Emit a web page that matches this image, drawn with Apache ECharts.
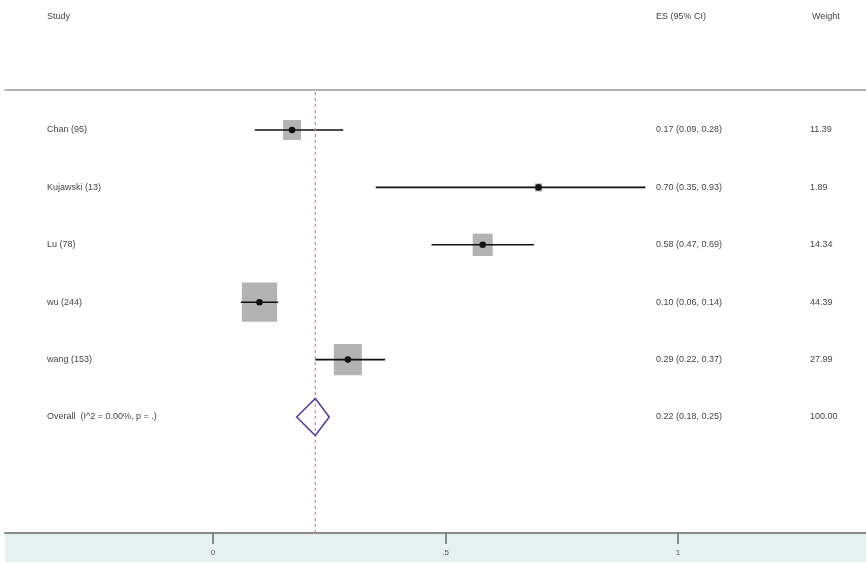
<!DOCTYPE html>
<html>
<head>
<meta charset="utf-8">
<script src="https://cdn.jsdelivr.net/npm/echarts@6/dist/echarts.min.js"></script>
<style>html,body{margin:0;padding:0;background:#fff}#c{width:866px;height:562px}</style>
</head>
<body>
<div id="c"></div>
<script>
// ---- data ----
const studies = ['Chan (95)', 'Kujawski (13)', 'Lu (78)', 'wu (244)', 'wang (153)'];
const es      = [0.17, 0.70, 0.58, 0.10, 0.29];
const ciLow   = [0.09, 0.35, 0.47, 0.06, 0.22];
const ciHigh  = [0.28, 0.93, 0.69, 0.14, 0.37];
const weights = ['11.39', '1.89', '14.34', '44.39', '27.99'];
const overallLabel = 'Overall  (I^2 = 0.00%, p = .)';
const overall = [0.22, 0.18, 0.25];          // es, low, high
const overallWeight = '100.00';
const headers = ['Study', 'ES (95% CI)', 'Weight'];
const xTicks = [0, 0.5, 1];
const xTickLabels = ['0', '.5', '1'];

const fmt = v => v.toFixed(2);
const esText = (e, l, h) => fmt(e) + ' (' + fmt(l) + ', ' + fmt(h) + ')';

const studyRows = studies.map((s, i) => [es[i], ciLow[i], ciHigh[i], i, parseFloat(weights[i])]);
const textRows = studies.map((s, i) => ({ name: s, es: esText(es[i], ciLow[i], ciHigh[i]), w: weights[i], row: i }))
  .concat([{ name: overallLabel, es: esText(overall[0], overall[1], overall[2]), w: overallWeight, row: studies.length }]);

const TXT = '#454545';
const FONT = '"Liberation Sans", Arial, sans-serif';

const chart = echarts.init(document.getElementById('c'), null, { renderer: 'canvas' });
chart.setOption({
  animation: false,
  backgroundColor: '#fff',
  grid: { left: 5, right: 0, top: 90, bottom: 29 },
  xAxis: [{
    type: 'value', position: 'bottom', min: -0.4473, max: 1.4043,
    splitLine: { show: false },
    axisLine: { show: true, onZero: false, lineStyle: { color: '#8a8a8a', width: 2 } },
    axisTick: { show: true, customValues: xTicks, length: 11, lineStyle: { color: '#6a6a6a', width: 1.5 } },
    axisLabel: { show: true, customValues: xTicks, formatter: v => xTickLabels[xTicks.indexOf(Math.round(v * 100) / 100)] ?? '',
      color: '#555', fontSize: 8, fontFamily: FONT, margin: 16 }
  }, {
    type: 'value', position: 'top', min: -0.4473, max: 1.4043,
    splitLine: { show: false },
    axisLine: { show: true, onZero: false, lineStyle: { color: '#9a9a9a', width: 1.5 } },
    axisTick: { show: false }, axisLabel: { show: false }
  }],
  yAxis: { type: 'value', min: -0.697, max: 7.021, inverse: true, show: false },
  graphic: [
    { type: 'rect', z: -10, shape: { x: 5, y: 534, width: 861, height: 28 }, style: { fill: '#e7f0f1' } },
    { type: 'text', left: 47, top: 12, style: { text: headers[0], fill: TXT, font: '9px ' + FONT } },
    { type: 'text', left: 656, top: 12, style: { text: headers[1], fill: TXT, font: '9px ' + FONT } },
    { type: 'text', left: 812, top: 12, style: { text: headers[2], fill: TXT, font: '9px ' + FONT } }
  ],
  series: [
    {
      // null line
      type: 'custom', z: 3,
      data: [[overall[0]]],
      renderItem: (params, api) => {
        const cs = params.coordSys;
        const x = api.coord([api.value(0), 0])[0];
        return { type: 'line', shape: { x1: x, y1: cs.y + 2, x2: x, y2: cs.y + cs.height },
          style: { stroke: '#c08a9a', lineWidth: 1.2, lineDash: [3, 3] } };
      }
    },
    {
      // study boxes, CI lines, points
      type: 'custom', z: 2,
      data: studyRows,
      renderItem: (params, api) => {
        const row = api.value(3);
        const c = api.coord([api.value(0), row]);
        const l = api.coord([api.value(1), row]);
        const h = api.coord([api.value(2), row]);
        const sw = Math.sqrt(api.value(4));
        const bw = 5.3 * sw, bh = 5.9 * sw;
        return { type: 'group', children: [
          { type: 'rect', shape: { x: c[0] - bw / 2, y: c[1] - bh / 2, width: bw, height: bh }, style: { fill: '#b3b3b3' } },
          { type: 'line', shape: { x1: l[0], y1: c[1], x2: h[0], y2: c[1] }, style: { stroke: '#111', lineWidth: 1.6 } },
          { type: 'circle', shape: { cx: c[0], cy: c[1], r: 3.3 }, style: { fill: '#111' } }
        ]};
      }
    },
    {
      // overall diamond
      type: 'custom', z: 4,
      data: [[overall[0], overall[1], overall[2], studies.length]],
      renderItem: (params, api) => {
        const row = api.value(3);
        const c = api.coord([api.value(0), row]);
        const l = api.coord([api.value(1), row]);
        const h = api.coord([api.value(2), row]);
        const dh = 18.5;
        return { type: 'polygon', shape: { points: [[l[0], c[1]], [c[0], c[1] - dh], [h[0], c[1]], [c[0], c[1] + dh]] },
          style: { fill: 'none', stroke: '#5b3f96', lineWidth: 1.6 } };
      }
    },
    {
      // row texts
      type: 'custom', z: 5,
      data: textRows.map(r => [r.row]),
      renderItem: (params, api) => {
        const r = textRows[params.dataIndex];
        const y = api.coord([0, api.value(0)])[1];
        const st = { fill: TXT, font: '9px ' + FONT, textVerticalAlign: 'middle', verticalAlign: 'middle' };
        return { type: 'group', children: [
          { type: 'text', x: 47, y: y, style: Object.assign({ text: r.name }, st) },
          { type: 'text', x: 656, y: y, style: Object.assign({ text: r.es }, st) },
          { type: 'text', x: 810, y: y, style: Object.assign({ text: r.w }, st) }
        ]};
      }
    }
  ]
});
</script>
</body>
</html>
